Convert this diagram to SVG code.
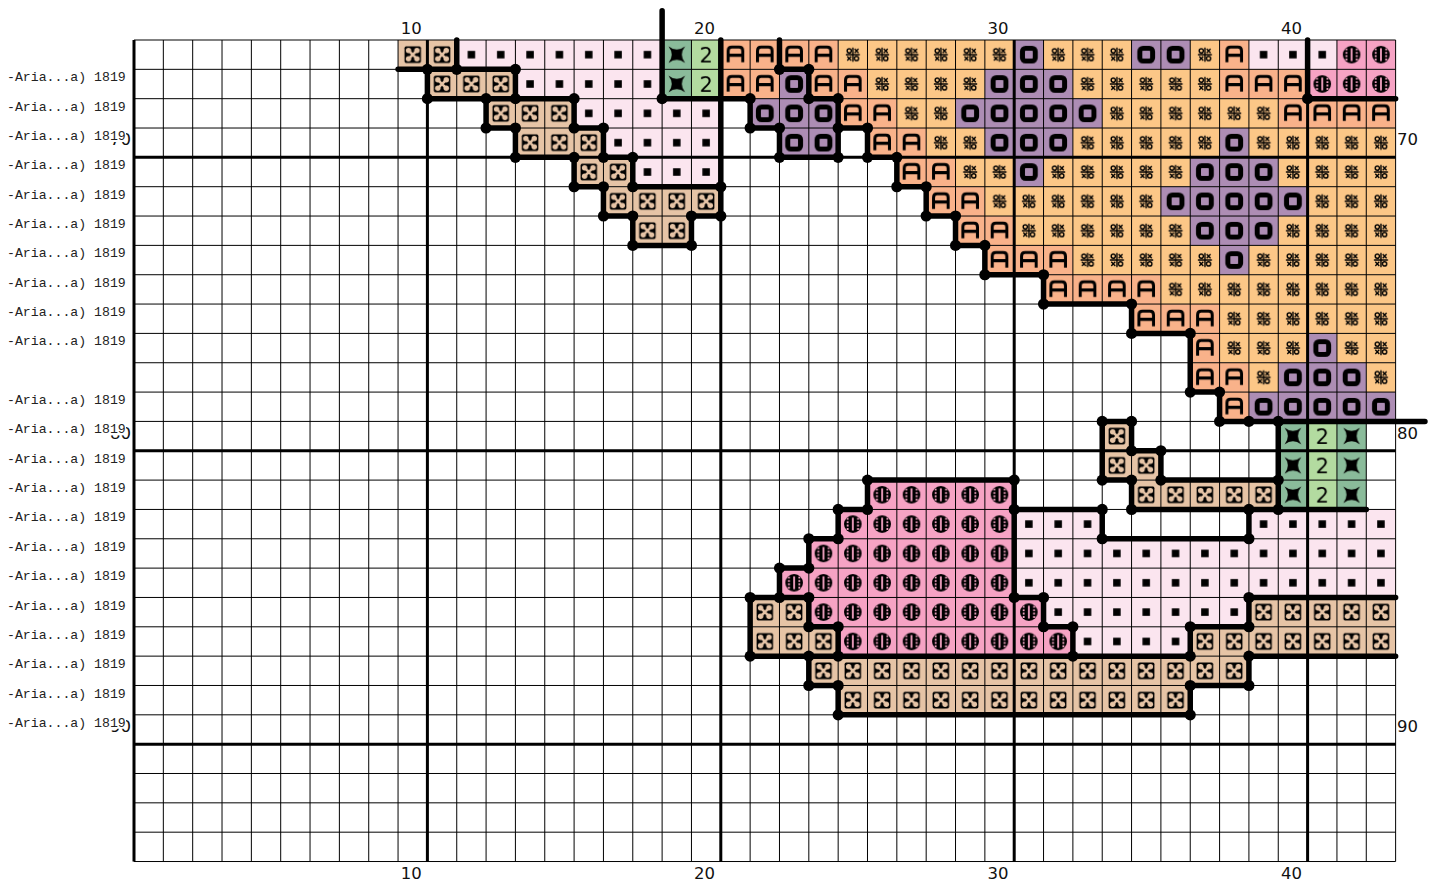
<svg xmlns="http://www.w3.org/2000/svg" width="1441" height="888" viewBox="0 0 1441 888">
<style>
.ax{font-family:"DejaVu Sans",sans-serif;font-size:16.5px;fill:#111}
.lb{font-family:"Liberation Mono",monospace;font-size:13.2px;fill:#222}
.thin{fill:none;stroke:#000;stroke-width:1;vector-effect:non-scaling-stroke}
.thick{fill:none;stroke:#000;stroke-width:3;vector-effect:non-scaling-stroke}
.bs{fill:none;stroke:#000;stroke-width:5.5;stroke-linecap:round;stroke-linejoin:round;vector-effect:non-scaling-stroke}
</style>
<defs>
<pattern id="pT" patternUnits="userSpaceOnUse" x="134" y="40" width="29.34" height="29.34">
<rect width="29.34" height="29.34" fill="#E6C4A6"/>
<g transform="translate(14.67,14.67)">
<rect x="-8.2" y="-8.2" width="16.4" height="16.4" rx="1.5" fill="#000"/>
<path d="M-4,-4L4,4M4,-4L-4,4" stroke="#E6C4A6" stroke-width="2.6" stroke-linecap="round"/>
<g fill="#E6C4A6"><circle cx="-4.2" cy="-4.2" r="2.7"/><circle cx="4.2" cy="-4.2" r="2.7"/><circle cx="-4.2" cy="4.2" r="2.7"/><circle cx="4.2" cy="4.2" r="2.7"/></g>
</g>
</pattern>
<pattern id="pP" patternUnits="userSpaceOnUse" x="134" y="40" width="29.34" height="29.34">
<rect width="29.34" height="29.34" fill="#FBE5EF"/>
<rect x="10.92" y="10.92" width="7.5" height="7.5" fill="#000"/>
</pattern>
<pattern id="pB" patternUnits="userSpaceOnUse" x="134" y="40" width="29.34" height="29.34">
<rect width="29.34" height="29.34" fill="#F6A3C4"/>
<g transform="translate(14.67,14.67)">
<circle r="8.8" fill="#000"/>
<rect x="-0.9" y="-6.4" width="1.8" height="12.8" fill="#F6A3C4"/>
<path d="M-5.2,-6.2V6.2M5.2,-6.2V6.2" stroke="#F6A3C4" stroke-width="1.8" stroke-dasharray="1.9 1.5"/>
</g>
</pattern>
<pattern id="pA" patternUnits="userSpaceOnUse" x="134" y="40" width="29.34" height="29.34">
<rect width="29.34" height="29.34" fill="#F9B28A"/>
<path transform="translate(14.67,14.67)" d="M-7.3,7.6V-4Q-7.3,-7.6 -3.7,-7.6H3.7Q7.3,-7.6 7.3,-4V7.6M-7.3,0.6H7.3" fill="none" stroke="#000" stroke-width="3"/>
</pattern>
<pattern id="pX" patternUnits="userSpaceOnUse" x="134" y="40" width="29.34" height="29.34">
<rect width="29.34" height="29.34" fill="#FCC787"/>
<g transform="translate(14.67,14.67)" stroke="#000" stroke-width="1.4" fill="none">
<path d="M0,-7V7M-7,0H7M1.7,-5.8L5.6,-1.8M5.6,-5.8L1.7,-1.8M-5.6,1.8L-1.7,5.8M-1.7,1.8L-5.6,5.8"/>
<circle cx="-3.6" cy="-3.8" r="2.1"/><circle cx="3.6" cy="3.8" r="2.1"/>
</g>
</pattern>
<pattern id="pO" patternUnits="userSpaceOnUse" x="134" y="40" width="29.34" height="29.34">
<rect width="29.34" height="29.34" fill="#AD8DB4"/>
<rect x="8.27" y="8.27" width="12.8" height="12.8" rx="3.2" fill="none" stroke="#000" stroke-width="5"/>
</pattern>
<pattern id="pG1" patternUnits="userSpaceOnUse" x="134" y="40" width="29.34" height="29.34">
<rect width="29.34" height="29.34" fill="#8ABB9A"/>
<path transform="translate(14.67,14.67)" d="M-8.3,-8.3Q0,-1.8 8.3,-8.3Q1.8,0 8.3,8.3Q0,1.8 -8.3,8.3Q-1.8,0 -8.3,-8.3Z" fill="#000"/>
</pattern>
<pattern id="pG2" patternUnits="userSpaceOnUse" x="134" y="40" width="29.34" height="29.34">
<rect width="29.34" height="29.34" fill="#B3DBA0"/>
<text x="14.67" y="22.3" text-anchor="middle" font-family="DejaVu Sans, sans-serif" font-size="21" fill="#000">2</text>
</pattern>
</defs>
<rect width="1441" height="888" fill="#fff"/>

<g id="cells">
<!-- row 0 -->
<rect x="398.06" y="40" width="58.68" height="29.34" fill="url(#pT)"/>
<rect x="456.74" y="40" width="205.38" height="29.34" fill="url(#pP)"/>
<rect x="662.12" y="40" width="29.34" height="58.68" fill="url(#pG1)"/>
<rect x="691.46" y="40" width="29.34" height="58.68" fill="url(#pG2)"/>
<rect x="720.8" y="40" width="117.36" height="29.34" fill="url(#pA)"/>
<rect x="838.16" y="40" width="176.04" height="29.34" fill="url(#pX)"/>
<rect x="1014.2" y="40" width="29.34" height="29.34" fill="url(#pO)"/>
<rect x="1043.54" y="40" width="88.02" height="29.34" fill="url(#pX)"/>
<rect x="1131.56" y="40" width="58.68" height="29.34" fill="url(#pO)"/>
<rect x="1190.24" y="40" width="29.34" height="29.34" fill="url(#pX)"/>
<rect x="1219.58" y="40" width="29.34" height="29.34" fill="url(#pA)"/>
<rect x="1248.92" y="40" width="88.02" height="29.34" fill="url(#pP)"/>
<rect x="1336.94" y="40" width="58.68" height="29.34" fill="url(#pB)"/>
<!-- row 1 -->
<rect x="427.4" y="69.34" width="88.02" height="29.34" fill="url(#pT)"/>
<rect x="515.42" y="69.34" width="146.7" height="29.34" fill="url(#pP)"/>
<rect x="720.8" y="69.34" width="58.68" height="29.34" fill="url(#pA)"/>
<rect x="779.48" y="69.34" width="29.34" height="29.34" fill="url(#pO)"/>
<rect x="808.82" y="69.34" width="58.68" height="29.34" fill="url(#pA)"/>
<rect x="867.5" y="69.34" width="117.36" height="29.34" fill="url(#pX)"/>
<rect x="984.86" y="69.34" width="88.02" height="29.34" fill="url(#pO)"/>
<rect x="1072.88" y="69.34" width="146.7" height="29.34" fill="url(#pX)"/>
<rect x="1219.58" y="69.34" width="88.02" height="29.34" fill="url(#pA)"/>
<rect x="1307.6" y="69.34" width="88.02" height="29.34" fill="url(#pB)"/>
<!-- row 2 -->
<rect x="486.08" y="98.68" width="88.02" height="29.34" fill="url(#pT)"/>
<rect x="574.1" y="98.68" width="146.7" height="29.34" fill="url(#pP)"/>
<rect x="750.14" y="98.68" width="88.02" height="29.34" fill="url(#pO)"/>
<rect x="838.16" y="98.68" width="58.68" height="29.34" fill="url(#pA)"/>
<rect x="896.84" y="98.68" width="58.68" height="29.34" fill="url(#pX)"/>
<rect x="955.52" y="98.68" width="146.7" height="29.34" fill="url(#pO)"/>
<rect x="1102.22" y="98.68" width="176.04" height="29.34" fill="url(#pX)"/>
<rect x="1278.26" y="98.68" width="117.36" height="29.34" fill="url(#pA)"/>
<!-- row 3 -->
<rect x="515.42" y="128.02" width="88.02" height="29.34" fill="url(#pT)"/>
<rect x="603.44" y="128.02" width="117.36" height="29.34" fill="url(#pP)"/>
<rect x="779.48" y="128.02" width="58.68" height="29.34" fill="url(#pO)"/>
<rect x="867.5" y="128.02" width="58.68" height="29.34" fill="url(#pA)"/>
<rect x="926.18" y="128.02" width="58.68" height="29.34" fill="url(#pX)"/>
<rect x="984.86" y="128.02" width="88.02" height="29.34" fill="url(#pO)"/>
<rect x="1072.88" y="128.02" width="146.7" height="29.34" fill="url(#pX)"/>
<rect x="1219.58" y="128.02" width="29.34" height="29.34" fill="url(#pO)"/>
<rect x="1248.92" y="128.02" width="146.7" height="29.34" fill="url(#pX)"/>
<!-- row 4 -->
<rect x="574.1" y="157.36" width="58.68" height="29.34" fill="url(#pT)"/>
<rect x="632.78" y="157.36" width="88.02" height="29.34" fill="url(#pP)"/>
<rect x="896.84" y="157.36" width="58.68" height="29.34" fill="url(#pA)"/>
<rect x="955.52" y="157.36" width="58.68" height="29.34" fill="url(#pX)"/>
<rect x="1014.2" y="157.36" width="29.34" height="29.34" fill="url(#pO)"/>
<rect x="1043.54" y="157.36" width="146.7" height="29.34" fill="url(#pX)"/>
<rect x="1190.24" y="157.36" width="88.02" height="29.34" fill="url(#pO)"/>
<rect x="1278.26" y="157.36" width="117.36" height="29.34" fill="url(#pX)"/>
<!-- row 5 -->
<rect x="603.44" y="186.7" width="117.36" height="29.34" fill="url(#pT)"/>
<rect x="926.18" y="186.7" width="58.68" height="29.34" fill="url(#pA)"/>
<rect x="984.86" y="186.7" width="176.04" height="29.34" fill="url(#pX)"/>
<rect x="1160.9" y="186.7" width="146.7" height="29.34" fill="url(#pO)"/>
<rect x="1307.6" y="186.7" width="88.02" height="29.34" fill="url(#pX)"/>
<!-- row 6 -->
<rect x="632.78" y="216.04" width="58.68" height="29.34" fill="url(#pT)"/>
<rect x="955.52" y="216.04" width="58.68" height="29.34" fill="url(#pA)"/>
<rect x="1014.2" y="216.04" width="176.04" height="29.34" fill="url(#pX)"/>
<rect x="1190.24" y="216.04" width="88.02" height="29.34" fill="url(#pO)"/>
<rect x="1278.26" y="216.04" width="117.36" height="29.34" fill="url(#pX)"/>
<!-- row 7 -->
<rect x="984.86" y="245.38" width="88.02" height="29.34" fill="url(#pA)"/>
<rect x="1072.88" y="245.38" width="146.7" height="29.34" fill="url(#pX)"/>
<rect x="1219.58" y="245.38" width="29.34" height="29.34" fill="url(#pO)"/>
<rect x="1248.92" y="245.38" width="146.7" height="29.34" fill="url(#pX)"/>
<!-- row 8 -->
<rect x="1043.54" y="274.72" width="117.36" height="29.34" fill="url(#pA)"/>
<rect x="1160.9" y="274.72" width="234.72" height="29.34" fill="url(#pX)"/>
<!-- row 9 -->
<rect x="1131.56" y="304.06" width="88.02" height="29.34" fill="url(#pA)"/>
<rect x="1219.58" y="304.06" width="176.04" height="29.34" fill="url(#pX)"/>
<!-- row 10 -->
<rect x="1190.24" y="333.4" width="29.34" height="29.34" fill="url(#pA)"/>
<rect x="1219.58" y="333.4" width="88.02" height="29.34" fill="url(#pX)"/>
<rect x="1307.6" y="333.4" width="29.34" height="29.34" fill="url(#pO)"/>
<rect x="1336.94" y="333.4" width="58.68" height="29.34" fill="url(#pX)"/>
<!-- row 11 -->
<rect x="1190.24" y="362.74" width="58.68" height="29.34" fill="url(#pA)"/>
<rect x="1248.92" y="362.74" width="29.34" height="29.34" fill="url(#pX)"/>
<rect x="1278.26" y="362.74" width="88.02" height="29.34" fill="url(#pO)"/>
<rect x="1366.28" y="362.74" width="29.34" height="29.34" fill="url(#pX)"/>
<!-- row 12 -->
<rect x="1219.58" y="392.08" width="29.34" height="29.34" fill="url(#pA)"/>
<rect x="1248.92" y="392.08" width="146.7" height="29.34" fill="url(#pO)"/>
<!-- rows 13-15 -->
<rect x="1102.22" y="421.42" width="29.34" height="58.68" fill="url(#pT)"/>
<rect x="1131.56" y="450.76" width="29.34" height="29.34" fill="url(#pT)"/>
<rect x="1278.26" y="421.42" width="29.34" height="88.02" fill="url(#pG1)"/>
<rect x="1307.6" y="421.42" width="29.34" height="88.02" fill="url(#pG2)"/>
<rect x="1336.94" y="421.42" width="29.34" height="88.02" fill="url(#pG1)"/>
<rect x="867.5" y="480.1" width="146.7" height="29.34" fill="url(#pB)"/>
<rect x="1131.56" y="480.1" width="146.7" height="29.34" fill="url(#pT)"/>
<!-- row 16 -->
<rect x="838.16" y="509.44" width="176.04" height="29.34" fill="url(#pB)"/>
<rect x="1014.2" y="509.44" width="88.02" height="29.34" fill="url(#pP)"/>
<rect x="1248.92" y="509.44" width="146.7" height="29.34" fill="url(#pP)"/>
<!-- row 17 -->
<rect x="808.82" y="538.78" width="205.38" height="29.34" fill="url(#pB)"/>
<rect x="1014.2" y="538.78" width="381.42" height="29.34" fill="url(#pP)"/>
<!-- row 18 -->
<rect x="779.48" y="568.12" width="234.72" height="29.34" fill="url(#pB)"/>
<rect x="1014.2" y="568.12" width="381.42" height="29.34" fill="url(#pP)"/>
<!-- row 19 -->
<rect x="750.14" y="597.46" width="58.68" height="29.34" fill="url(#pT)"/>
<rect x="808.82" y="597.46" width="234.72" height="29.34" fill="url(#pB)"/>
<rect x="1043.54" y="597.46" width="205.38" height="29.34" fill="url(#pP)"/>
<rect x="1248.92" y="597.46" width="146.7" height="29.34" fill="url(#pT)"/>
<!-- row 20 -->
<rect x="750.14" y="626.8" width="88.02" height="29.34" fill="url(#pT)"/>
<rect x="838.16" y="626.8" width="234.72" height="29.34" fill="url(#pB)"/>
<rect x="1072.88" y="626.8" width="117.36" height="29.34" fill="url(#pP)"/>
<rect x="1190.24" y="626.8" width="205.38" height="29.34" fill="url(#pT)"/>
<!-- row 21, 22 -->
<rect x="808.82" y="656.14" width="440.1" height="29.34" fill="url(#pT)"/>
<rect x="838.16" y="685.48" width="352.08" height="29.34" fill="url(#pT)"/>
</g>

<g id="grid" transform="translate(134,40) scale(29.34)">
<path class="thin" d="M0,0V28M1,0V28M2,0V28M3,0V28M4,0V28M5,0V28M6,0V28M7,0V28M8,0V28M9,0V28M10,0V28M11,0V28M12,0V28M13,0V28M14,0V28M15,0V28M16,0V28M17,0V28M18,0V28M19,0V28M20,0V28M21,0V28M22,0V28M23,0V28M24,0V28M25,0V28M26,0V28M27,0V28M28,0V28M29,0V28M30,0V28M31,0V28M32,0V28M33,0V28M34,0V28M35,0V28M36,0V28M37,0V28M38,0V28M39,0V28M40,0V28M41,0V28M42,0V28M43,0V28M0,0H43M0,1H43M0,2H43M0,3H43M0,4H43M0,5H43M0,6H43M0,7H43M0,8H43M0,9H43M0,10H43M0,11H43M0,12H43M0,13H43M0,14H43M0,15H43M0,16H43M0,17H43M0,18H43M0,19H43M0,20H43M0,21H43M0,22H43M0,23H43M0,24H43M0,25H43M0,26H43M0,27H43M0,28H43"/>
<path class="thick" d="M0,0V28M10,0V28M20,0V28M30,0V28M40,0V28M0,4H43M0,14H43M0,24H43"/>
</g>

<g id="backstitch" transform="translate(134,40) scale(29.34)">
<path class="bs" d="M18,-1V2M9,1H13M11,0V1M10,1V2H15M13,1V2M12,2V3H13V4H15M15,2V3H16V4H17V5H20M15,4V5H16V6H17V7H19V6H20M20,0V6M18,2H21V3H22V4H24M22,0V1H23V2H24V4M24,3H25V4H26V5H27V6H28V7H29V8H31V9H34V10H36V12H37V13H44M39,13V16M33,13H34V14H35V15H39M33,13V15H34V16H42M40,0V2H43M30,16V15H25V16H24V17H23V18H22V19M30,15V19H31V20H32V21M21,19H23V20H24V21M21,19V21H36V20H38V19H43M30,16H33V17H38V16M23,21V22H24V23H36V22H38V21H43"/>
<g fill="#000">
<circle cx="10" cy="1" r="0.19"/><circle cx="11" cy="1" r="0.19"/><circle cx="13" cy="1" r="0.19"/><circle cx="22" cy="1" r="0.19"/><circle cx="23" cy="1" r="0.19"/>
<circle cx="10" cy="2" r="0.19"/><circle cx="12" cy="2" r="0.19"/><circle cx="13" cy="2" r="0.19"/><circle cx="15" cy="2" r="0.19"/><circle cx="18" cy="2" r="0.19"/><circle cx="21" cy="2" r="0.19"/><circle cx="23" cy="2" r="0.19"/><circle cx="24" cy="2" r="0.19"/><circle cx="40" cy="2" r="0.19"/>
<circle cx="12" cy="3" r="0.19"/><circle cx="13" cy="3" r="0.19"/><circle cx="15" cy="3" r="0.19"/><circle cx="16" cy="3" r="0.19"/><circle cx="21" cy="3" r="0.19"/><circle cx="22" cy="3" r="0.19"/><circle cx="24" cy="3" r="0.19"/><circle cx="25" cy="3" r="0.19"/>
<circle cx="13" cy="4" r="0.19"/><circle cx="15" cy="4" r="0.19"/><circle cx="16" cy="4" r="0.19"/><circle cx="17" cy="4" r="0.19"/><circle cx="22" cy="4" r="0.19"/><circle cx="24" cy="4" r="0.19"/><circle cx="25" cy="4" r="0.19"/><circle cx="26" cy="4" r="0.19"/>
<circle cx="15" cy="5" r="0.19"/><circle cx="16" cy="5" r="0.19"/><circle cx="17" cy="5" r="0.19"/><circle cx="20" cy="5" r="0.19"/><circle cx="26" cy="5" r="0.19"/><circle cx="27" cy="5" r="0.19"/>
<circle cx="16" cy="6" r="0.19"/><circle cx="17" cy="6" r="0.19"/><circle cx="19" cy="6" r="0.19"/><circle cx="20" cy="6" r="0.19"/><circle cx="27" cy="6" r="0.19"/><circle cx="28" cy="6" r="0.19"/>
<circle cx="17" cy="7" r="0.19"/><circle cx="19" cy="7" r="0.19"/><circle cx="28" cy="7" r="0.19"/><circle cx="29" cy="7" r="0.19"/>
<circle cx="29" cy="8" r="0.19"/><circle cx="31" cy="8" r="0.19"/>
<circle cx="31" cy="9" r="0.19"/><circle cx="34" cy="9" r="0.19"/>
<circle cx="34" cy="10" r="0.19"/><circle cx="36" cy="10" r="0.19"/>
<circle cx="36" cy="12" r="0.19"/><circle cx="37" cy="12" r="0.19"/>
<circle cx="33" cy="13" r="0.19"/><circle cx="34" cy="13" r="0.19"/><circle cx="37" cy="13" r="0.19"/><circle cx="38" cy="13" r="0.19"/><circle cx="39" cy="13" r="0.19"/>
<circle cx="34" cy="14" r="0.19"/><circle cx="35" cy="14" r="0.19"/>
<circle cx="25" cy="15" r="0.19"/><circle cx="30" cy="15" r="0.19"/><circle cx="33" cy="15" r="0.19"/><circle cx="34" cy="15" r="0.19"/><circle cx="35" cy="15" r="0.19"/><circle cx="39" cy="15" r="0.19"/>
<circle cx="24" cy="16" r="0.19"/><circle cx="25" cy="16" r="0.19"/><circle cx="30" cy="16" r="0.19"/><circle cx="33" cy="16" r="0.19"/><circle cx="34" cy="16" r="0.19"/><circle cx="38" cy="16" r="0.19"/><circle cx="39" cy="16" r="0.19"/>
<circle cx="23" cy="17" r="0.19"/><circle cx="24" cy="17" r="0.19"/><circle cx="33" cy="17" r="0.19"/><circle cx="38" cy="17" r="0.19"/>
<circle cx="22" cy="18" r="0.19"/><circle cx="23" cy="18" r="0.19"/>
<circle cx="21" cy="19" r="0.19"/><circle cx="22" cy="19" r="0.19"/><circle cx="23" cy="19" r="0.19"/><circle cx="30" cy="19" r="0.19"/><circle cx="31" cy="19" r="0.19"/><circle cx="38" cy="19" r="0.19"/>
<circle cx="23" cy="20" r="0.19"/><circle cx="24" cy="20" r="0.19"/><circle cx="31" cy="20" r="0.19"/><circle cx="32" cy="20" r="0.19"/><circle cx="36" cy="20" r="0.19"/><circle cx="38" cy="20" r="0.19"/>
<circle cx="21" cy="21" r="0.19"/><circle cx="23" cy="21" r="0.19"/><circle cx="24" cy="21" r="0.19"/><circle cx="32" cy="21" r="0.19"/><circle cx="36" cy="21" r="0.19"/><circle cx="38" cy="21" r="0.19"/>
<circle cx="23" cy="22" r="0.19"/><circle cx="24" cy="22" r="0.19"/><circle cx="36" cy="22" r="0.19"/><circle cx="38" cy="22" r="0.19"/>
<circle cx="24" cy="23" r="0.19"/><circle cx="36" cy="23" r="0.19"/>
</g>
</g>

<g id="axis-labels" class="ax">
<text x="411.2" y="34" text-anchor="middle">10</text>
<text x="704.6" y="34" text-anchor="middle">20</text>
<text x="998" y="34" text-anchor="middle">30</text>
<text x="1291.4" y="34" text-anchor="middle">40</text>
<text x="411.2" y="879" text-anchor="middle">10</text>
<text x="704.6" y="879" text-anchor="middle">20</text>
<text x="998" y="879" text-anchor="middle">30</text>
<text x="1291.4" y="879" text-anchor="middle">40</text>
<text x="1397" y="145">70</text>
<text x="1397" y="438.5">80</text>
<text x="1397" y="732">90</text>
<text x="131" y="145" text-anchor="end">70</text>
<text x="131" y="438.5" text-anchor="end">80</text>
<text x="131" y="732" text-anchor="end">90</text>
</g>

<g id="row-labels">
<g fill="#fff">
<rect x="0" y="70.3" width="126" height="13"/><rect x="0" y="99.7" width="126" height="13"/><rect x="0" y="129" width="126" height="13"/><rect x="0" y="158.4" width="126" height="13"/><rect x="0" y="187.7" width="126" height="13"/><rect x="0" y="217" width="126" height="13"/><rect x="0" y="246.4" width="126" height="13"/><rect x="0" y="275.7" width="126" height="13"/><rect x="0" y="305.1" width="126" height="13"/><rect x="0" y="334.4" width="126" height="13"/>
<rect x="0" y="393.1" width="126" height="13"/><rect x="0" y="422.4" width="126" height="13"/><rect x="0" y="451.8" width="126" height="13"/><rect x="0" y="481.1" width="126" height="13"/><rect x="0" y="510.4" width="126" height="13"/><rect x="0" y="539.8" width="126" height="13"/><rect x="0" y="569.1" width="126" height="13"/><rect x="0" y="598.5" width="126" height="13"/><rect x="0" y="627.8" width="126" height="13"/><rect x="0" y="657.1" width="126" height="13"/><rect x="0" y="686.5" width="126" height="13"/><rect x="0" y="715.8" width="126" height="13"/>
</g>
<g class="lb">
<text x="7" y="81.3">-Aria...a) 1819</text>
<text x="7" y="110.7">-Aria...a) 1819</text>
<text x="7" y="140">-Aria...a) 1819</text>
<text x="7" y="169.4">-Aria...a) 1819</text>
<text x="7" y="198.7">-Aria...a) 1819</text>
<text x="7" y="228">-Aria...a) 1819</text>
<text x="7" y="257.4">-Aria...a) 1819</text>
<text x="7" y="286.7">-Aria...a) 1819</text>
<text x="7" y="316.1">-Aria...a) 1819</text>
<text x="7" y="345.4">-Aria...a) 1819</text>
<text x="7" y="404.1">-Aria...a) 1819</text>
<text x="7" y="433.4">-Aria...a) 1819</text>
<text x="7" y="462.8">-Aria...a) 1819</text>
<text x="7" y="492.1">-Aria...a) 1819</text>
<text x="7" y="521.4">-Aria...a) 1819</text>
<text x="7" y="550.8">-Aria...a) 1819</text>
<text x="7" y="580.1">-Aria...a) 1819</text>
<text x="7" y="609.5">-Aria...a) 1819</text>
<text x="7" y="638.8">-Aria...a) 1819</text>
<text x="7" y="668.1">-Aria...a) 1819</text>
<text x="7" y="697.5">-Aria...a) 1819</text>
<text x="7" y="726.8">-Aria...a) 1819</text>
</g>
</g>
</svg>
